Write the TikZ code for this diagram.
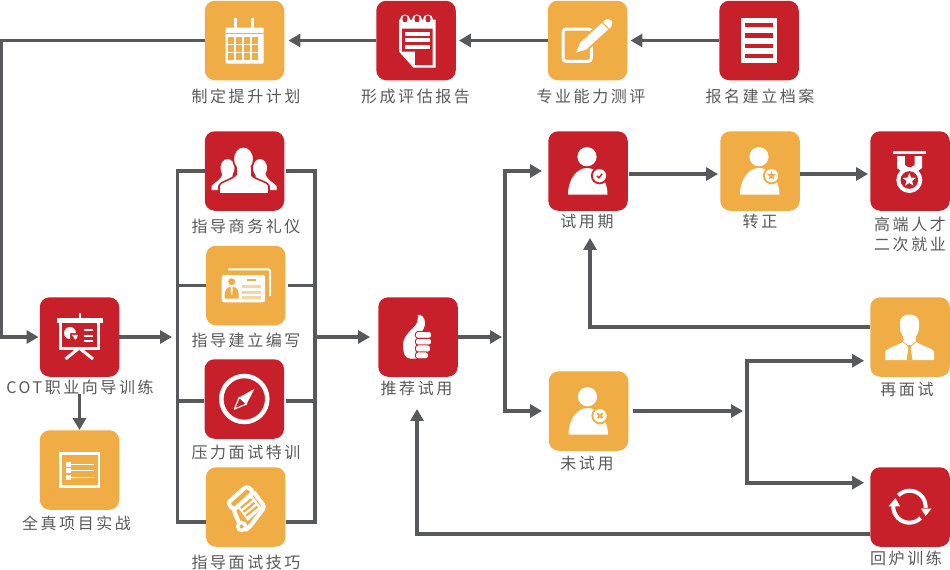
\documentclass[tikz,border=0pt]{standalone}
\usepackage{fontspec}
\newfontfamily\cjk[LetterSpace=16]{Noto Sans CJK SC}
\usetikzlibrary{arrows.meta,calc,shapes.geometric}
\definecolor{hong}{HTML}{C8202A}
\definecolor{cheng}{HTML}{F0AC45}
\definecolor{danCheng}{HTML}{F8D59F}
\definecolor{xianSe}{HTML}{58595B}
\definecolor{ziSe}{HTML}{5A5A5A}
\tikzset{
  hongkuang/.style = {fill=hong,rounded corners=10pt,minimum size=79.5pt,inner sep=0pt},
  chengkuang/.style = {fill=cheng,rounded corners=10pt,minimum size=79.5pt,inner sep=0pt},
  wenzi/.style = {text=ziSe,font=\cjk\fontsize{16}{20}\selectfont,inner sep=0pt,align=center},
  xian/.style = {draw=xianSe,line width=3.9pt},
  jiantou/.style = {xian,-{Triangle[length=12pt,width=13pt]},shorten >=3pt}
}
% 人形图标：头、身体、徽章底
\newcommand{\renxiang}[1]{
  \fill[white](-1,-14.3)circle(9.6);
  \fill[white](-20,23.5)..controls(-20,8)and(-11,-3)..(-1,-3)..controls(9,-3)and(19.5,8)..(19.5,23.5)--cycle;
  \fill[#1](11.5,4.7)circle(8.6);
  \fill[white](11.5,4.7)circle(6.6);
}
\begin{document}
\begin{tikzpicture}[x=1pt,y=-1pt]
    \useasboundingbox[fill=white](0,0)rectangle(950,570);
    % 方块
    \node[hongkuang](baoming)at(759,40.5){};
    \node[chengkuang](zhuanye)at(587.5,40.5){};
    \node[hongkuang](pinggu)at(416,40.5){};
    \node[chengkuang](zhiding)at(244.5,40.5){};
    \node[hongkuang](liyi)at(244.5,171){};
    \node[chengkuang](bianxie)at(245.7,285.5){};
    \node[hongkuang](yali)at(244.3,399){};
    \node[chengkuang](jiqiao)at(245.7,507){};
    \node[hongkuang](cot)at(79.5,337){};
    \node[chengkuang](quanzhen)at(79.5,470){};
    \node[hongkuang](tuijian)at(418,337){};
    \node[hongkuang](shiyong)at(588,171){};
    \node[chengkuang](zhuanzheng)at(760,171){};
    \node[hongkuang](gaoduan)at(910,171){};
    \node[chengkuang](zaimian)at(910,337){};
    \node[chengkuang](weishi)at(588.5,411){};
    \node[hongkuang](huilu)at(910,507){};
    % 文字
    \node[wenzi](tzhiding)at(246,96.5){制定提升计划};
    \node[wenzi](tpinggu)at(415.5,96.5){形成评估报告};
    \node[wenzi](tzhuanye)at(591,96.5){专业能力测评};
    \node[wenzi](tbaoming)at(760,96.5){报名建立档案};
    \node[wenzi](tliyi)at(246,226){指导商务礼仪};
    \node[wenzi](tbianxie)at(246,340){指导建立编写};
    \node[wenzi](tyali)at(246,452){压力面试特训};
    \node[wenzi](tjiqiao)at(246,562){指导面试技巧};
    \node[wenzi](tcot)at(80,387){COT职业向导训练};
    \node[wenzi](tquanzhen)at(76.5,523){全真项目实战};
    \node[wenzi](ttuijian)at(416.5,388){推荐试用};
    \node[wenzi](tshiyong)at(587,221){试用期};
    \node[wenzi](tzhuanzheng)at(760,221){转正};
    \node[wenzi](tgaoduan)at(910,234){高端人才\\二次就业};
    \node[wenzi](tzaimian)at(907,389){再面试};
    \node[wenzi](tweishi)at(587,463){未试用};
    \node[wenzi](thuilu)at(906,558){回炉训练};
    % 折点
    \coordinate(zuoshang)at(1.5,40.5);
    \coordinate(zuo1)at(177.5,171);
    \coordinate(zuo2)at(177.5,521.7);
    \coordinate(zuo3)at(177.5,401);
    \coordinate(you1)at(315,171);
    \coordinate(you2)at(315,521.7);
    \coordinate(you3)at(315,401);
    \coordinate(fen1)at(505,171);
    \coordinate(fen2)at(505,411);
    \coordinate(fen3)at(746.7,360.7);
    \coordinate(fen4)at(746.7,482.7);
    % 上排
    \draw[jiantou](baoming.west)to(zhuanye.east);
    \draw[jiantou](zhuanye.west)to(pinggu.east);
    \draw[jiantou,shorten >=4pt](pinggu.west)to(zhiding.east);
    \draw[jiantou,shorten >=1pt](zhiding.west)--(zuoshang)|-(cot.west);
    % 中间的框
    \draw[xian](liyi.west)--(zuo1)--(zuo2)--(zuo2-|jiqiao.west);
    \draw[xian](zuo1|-bianxie.west)to(bianxie.west);
    \draw[xian](zuo3)to(zuo3-|yali.west);
    \draw[xian,shorten <=2pt](liyi.east)--(you1)--(you2)--(you2-|jiqiao.east);
    \draw[xian,shorten <=2pt](bianxie.east)to(you1|-bianxie.east);
    \draw[xian,shorten <=2pt](you3-|yali.east)to(you3);
    \draw[jiantou,shorten >=5.5pt](cot.east)to(zuo1|-cot.east);
    \draw[jiantou,shorten <=17pt,shorten >=0pt](cot.south)to(quanzhen.north);
    \draw[jiantou,shorten <=2pt,shorten >=8pt](you1|-cot.east)to(tuijian.west);
    % 右侧
    \draw[jiantou,shorten >=3pt](tuijian.east)to(fen1|-tuijian.east);
    \draw[jiantou,shorten >=6pt](fen2)--(fen1)--(shiyong.west);
    \draw[jiantou,shorten >=6.5pt](fen1)--(fen2)--(weishi.west);
    \draw[jiantou,shorten <=1pt,shorten >=2pt]([yshift=-3pt]shiyong.east)to([yshift=-3pt]zhuanzheng.west);
    \draw[jiantou,shorten >=2pt]([yshift=-3pt]zhuanzheng.east)to([yshift=-3pt]gaoduan.west);
    \draw[jiantou,shorten >=27pt]([yshift=10pt]zaimian.west)-|([xshift=2pt]shiyong.south);
    \draw[jiantou,shorten <=5pt,shorten >=3.7pt](weishi.east)to(fen3|-weishi.east);
    \draw[jiantou,shorten >=6pt](fen4)--(fen3)--(fen3-|zaimian.west);
    \draw[jiantou,shorten >=6pt](fen3)--(fen4)--(fen4-|huilu.west);
    \draw[jiantou,shorten >=32pt]([yshift=-27pt]huilu.west)-|([xshift=-1pt]tuijian.south);
    % 档案
    \begin{scope}[shift={(baoming)}]
        \fill[white](-18,-23)rectangle(18,22);
        \foreach \i in {-18,-7.5,3,13}
        {
        \fill[hong](-14,\i)rectangle(14,\i+4.6);
        }
    \end{scope}
    % 测评
    \begin{scope}[shift={(zhuanye)}]
        \draw[white,line width=3pt,rounded corners=3pt](-24.5,-11.5)rectangle(3.8,20.8);
        \draw[cheng,line width=13pt](-4.1,5.4)to(24,-20);
        \fill[cheng](-12,13)--(-1,9.5)--(-7.5,2)--cycle;
        \fill[white](-11.5,12.2)--(-1.1,8.8)--(-7.1,2.1)--cycle;
        \draw[white,line width=9pt,line cap=round](-4.1,5.4)to(20.5,-17);
        \draw[cheng,line width=1pt](14.5,-18.5)to(21,-11.5);
    \end{scope}
    % 报告
    \begin{scope}[shift={(pinggu)}]
        \fill[white](-17,-21)--(19.7,-21)--(19.7,27)--(-2.7,27)--(-17,11)--cycle;
        \foreach \i in {-11,1,12}
        {
        \fill[white](\i,-21)circle(5);
        \fill[hong](\i,-21.5)ellipse(2.6 and 3.5);
        \fill[white](\i-3.2,-19)rectangle(\i+3.2,-14);
        }
        \fill[hong](-14,-12)--(16.5,-12)--(16.5,24.5)--(-1,24.5)--(-1,11)--(-14,11)--cycle;
        \fill[white](-11.5,-9)rectangle(14,-5);
        \fill[white](-11.5,-2.5)rectangle(14,1.5);
        \fill[white](-11.5,4)rectangle(14,8);
    \end{scope}
    % 日历
    \begin{scope}[shift={(zhiding)}]
        \fill[white,rounded corners=1pt](-19,-13)rectangle(19,23);
        \fill[white](-10.8,-23)rectangle(-7.2,-13);
        \fill[white](6.2,-23)rectangle(9.8,-13);
        \fill[cheng](-19,-7.4)rectangle(19,-6.6);
        \foreach \i in {-16.8,-8.8,-0.8,7.2}
        {
        \foreach \j in {-3.3,4.7,12.7}
        {
        \fill[cheng](\i,\j)rectangle(\i+6.6,\j+6.6);
        }
        }
    \end{scope}
    % 商务礼仪
    \begin{scope}[shift={(liyi)}]
        \fill[white](-17,-3)ellipse(7 and 9);
        \fill[white](15.5,-3)ellipse(7 and 9);
        \fill[white](-33,19)--(-33,15)..controls(-30,11)and(-24,10)..(-22,3)--(-12,3)--(-12,19)--cycle;
        \fill[white](32,19)--(32,15)..controls(29,11)and(23,10)..(21,3)--(11,3)--(11,19)--cycle;
        \path[fill=white,draw=hong,line width=1.6pt](-1,-12)ellipse(10.3 and 12.3);
        \path[fill=white,draw=hong,line width=1.6pt](-25.5,23)--(-25.5,15)..controls(-24,10)and(-12,9)..(-8,3)--(6,3)..controls(10,9)and(23,10)..(24.5,15)--(24.5,23)--cycle;
        \fill[white](-8,-4)rectangle(6,5);
    \end{scope}
    % 名片
    \begin{scope}[shift={(bianxie)}]
        \draw[white,line width=2pt,rounded corners=2pt](-17.7,-16.2)--(24.3,-16.2)--(24.3,10.5);
        \fill[white,rounded corners=2pt](-24,-10.5)rectangle(19.3,16.8);
        \fill[cheng](-14,-3.8)circle(3.5);
        \fill[cheng](-21,13)--(-21,8)..controls(-20,2)and(-17,1)..(-14,1)..controls(-11,1)and(-8,2)..(-7,8)--(-7,13)--cycle;
        \fill[white](-15,1)--(-13,1)--(-13.3,9)--(-14.7,9)--cycle;
        \draw[cheng,line width=1.2pt](1.3,-5.5)to(10.3,-5.5);
        \foreach \i in {1.2,6.5,11.5}
        {
        \draw[danCheng,line width=3pt](-4,\i)to(15,\i);
        }
    \end{scope}
    % 指南针
    \begin{scope}[shift={(yali)}]
        \draw[white,line width=4.5pt](0,0)circle(23);
        \fill[white](10,-10)--(-5,-1.7)--(2.4,5)--cycle;
        \draw[white,line width=1.2pt,line join=round](-10,10)--(-5,-1.7)--(2.4,5)--cycle;
    \end{scope}
    % 卷轴
    \begin{scope}[shift={(jiqiao)}]
        \fill[white](-8,0)--(6,-12)--(16,1)--(2,14)--cycle;
        \draw[white,line width=4.2pt,line join=round,rounded corners=3pt](-18,-4)--(1,-21)--(8,-15)--(-12,3)--cycle;
        \draw[white,line width=4.2pt,line join=round,rounded corners=3pt](8,-15)--(19,0)--(3,21)--(-1,23);
        \draw[white,line width=4.2pt](-12,3)--(-7,15);
        \draw[white,line width=3.4pt](-4,19.5)circle(4);
        \foreach \i/\j in {-5/1,-2.2/4.8,0.6/8.6}
        {
        \draw[cheng,line width=2.2pt](\i,\j)to(\i+11,\j-9);
        }
    \end{scope}
    % 培训
    \begin{scope}[shift={(cot)}]
        \fill[white](-1,-24)rectangle(1,-19);
        \fill[white](-23,-19.5)rectangle(23,-14.5);
        \draw[white,line width=3pt](-18.7,-14.5)--(-18.7,11)--(19,11)--(19,-14.5);
        \fill[white](-9.5,-4)--(-3.5,-4)arc[start angle=0,end angle=-270,radius=6]--cycle;
        \fill[white](-7.7,-2.2)--(-1.7,-2.2)arc[start angle=0,end angle=55,radius=6]--cycle;
        \foreach \i in {-7,-1,4}
        {
        \draw[white,line width=2.4pt](4.5,\i)to(13,\i);
        }
        \draw[white,line width=3pt](-0.3,11)to(-14,22);
        \draw[white,line width=3pt](-0.3,11)to(13.5,22);
    \end{scope}
    % 项目
    \begin{scope}[shift={(quanzhen)}]
        \draw[white,line width=2.5pt](-19,-16.5)rectangle(19.5,16.5);
        \foreach \i in {-6,0.7,7.3}
        {
        \fill[white](-13.5,\i-2.5)rectangle(-8.5,\i+2.5);
        \draw[white,line width=1pt](-10,\i)to(14,\i);
        }
    \end{scope}
    % 拇指
    \begin{scope}[shift={(tuijian)}]
        \fill[white](0,21.5)--(-8,21.5)..controls(-13,21.5)and(-15,16)..(-15,8)..controls(-15,0)and(-9,-5)..(-5,-9)..controls(-1,-12)and(0,-17)..(0,-22)..controls(3,-23)and(7,-20)..(7,-14)..controls(7,-10)and(5,-7)..(3,-4)--cycle;
        \foreach \i/\j/\k in {-5.5/1.3/13.5,1.3/8/13.5,8/15/12.5,15/21.7/10.5}
        {
        \path[fill=white,draw=hong,line width=0.9pt,rounded corners=2.5pt](-2.5,\i)rectangle(\k,\j);
        }
    \end{scope}
    % 试用期
    \begin{scope}[shift={(shiyong)}]
        \renxiang{hong}
        \draw[hong,line width=1.4pt](8.8,4.8)--(10.8,6.8)--(14.2,2.8);
    \end{scope}
    % 转正
    \begin{scope}[shift={(zhuanzheng)}]
        \renxiang{cheng}
        \node[star,star points=5,star point ratio=2.4,fill=cheng,minimum size=9.5pt,inner sep=0pt](xingA)at(11.5,4.7){};
    \end{scope}
    % 未试用
    \begin{scope}[shift={(weishi)}]
        \renxiang{cheng}
        \draw[cheng,line width=2pt](9,2.2)to(14,7.2);
        \draw[cheng,line width=2pt](14,2.2)to(9,7.2);
    \end{scope}
    % 奖牌
    \begin{scope}[shift={(gaoduan)}]
        \fill[white](-16.7,-20.3)rectangle(16,-16.7);
        \fill[white](-13,-15)--(12,-15)--(12,-3)--(5,2)--(-6,2)--(-13,-3)--cycle;
        \fill[hong](-5,-15)--(4.5,-15)--(4.5,-6)--(-0.5,-3)--(-5,-6)--cycle;
        \fill[white](-0.7,9)circle(13);
        \fill[hong](-0.7,9)circle(8.8);
        \node[star,star points=5,star point ratio=2.4,fill=white,minimum size=14pt,inner sep=0pt](xingB)at(-0.7,9){};
    \end{scope}
    % 再面试
    \begin{scope}[shift={(zaimian)}]
        \fill[white](-10,-15)..controls(-10,-25)and(9,-25)..(9,-15)--(9,-9)..controls(9,-4)and(5.5,-1)..(5.5,1)--(5.5,5)--(-6.5,5)--(-6.5,1)..controls(-6.5,-1)and(-10,-4)..(-10,-9)--cycle;
        \fill[white](-25,23)--(-25,15)..controls(-24,11)and(-12,9)..(-6,4)--(5,4)..controls(11,9)and(23,11)..(24,15)--(24,23)--cycle;
        \fill[cheng](-2.5,8)--(1.5,8)--(0.6,12)--(2.5,23)--(-3.5,23)--(-1.6,12)--cycle;
        \draw[cheng,line width=0.8pt](-7,5)--(-0.5,10)--(6,5);
    \end{scope}
    % 回炉
    \begin{scope}[shift={(huilu)}]
        \draw[white,line width=4pt](-11.7,-11.6)arc[start angle=-135,end angle=5,radius=16];
        \fill[white](11,1.7)--(21.5,1.7)--(15.6,9)--cycle;
        \draw[white,line width=4pt](10.6,11)arc[start angle=45,end angle=185,radius=16];
        \fill[white](-21.5,-0.7)--(-10,-0.7)--(-14.5,-9)--cycle;
    \end{scope}
\end{tikzpicture}
\end{document}
